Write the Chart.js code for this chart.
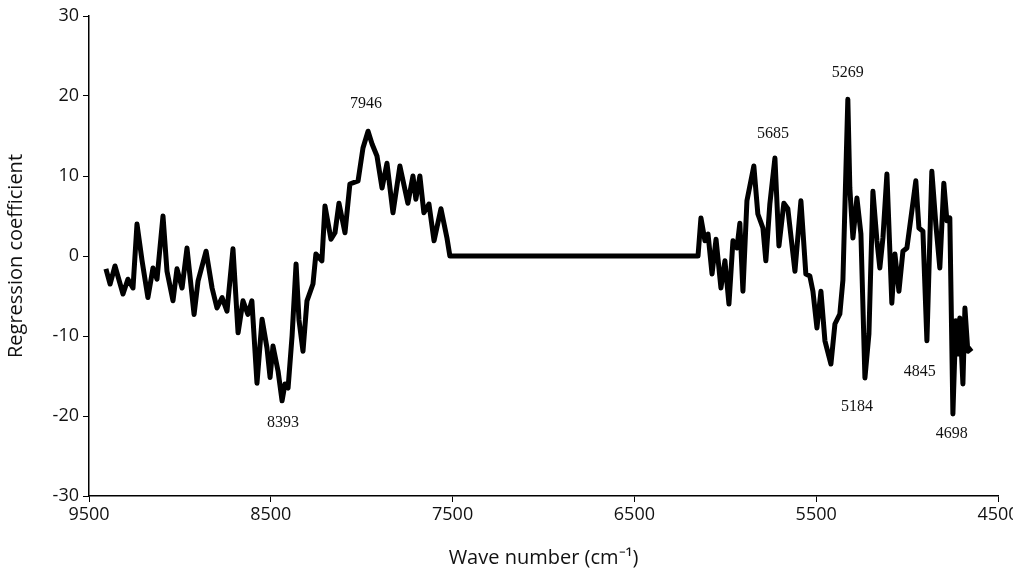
<!DOCTYPE html>
<html>
<head>
<meta charset="utf-8">
<script src="https://cdn.jsdelivr.net/npm/chart.js@4.4.1/dist/chart.umd.min.js"></script>
<style>
  html, body { margin: 0; padding: 0; background: #fff; }
  #wrap { width: 1013px; height: 574px; position: relative; }
</style>
</head>
<body>
<div id="wrap"><canvas id="chart"></canvas></div>
<script>
// wave numbers (cm-1)
const waveNumbers = [
  9407, 9384, 9357, 9335, 9313, 9286, 9258, 9236, 9208, 9176,
  9148, 9126, 9093, 9071, 9038, 9016, 8988, 8961, 8922, 8900,
  8856, 8823, 8796, 8768, 8741, 8708, 8680, 8653, 8626, 8604,
  8576, 8548, 8521, 8504, 8488, 8460, 8438, 8422, 8405, 8383,
  8361, 8345, 8323, 8301, 8268, 8252, 8219, 8202, 8169, 8147,
  8125, 8092, 8065, 8020, 7993, 7965, 7943, 7916, 7888, 7861,
  7828, 7790, 7746, 7718, 7702, 7680, 7658, 7630, 7602, 7564,
  7531, 7515, 6150,
  6134, 6112, 6095, 6073, 6051, 6024, 6002, 5980, 5958, 5936,
  5920, 5903, 5881, 5843, 5821, 5793, 5777, 5755, 5727, 5705,
  5678, 5656, 5617, 5584, 5557, 5535, 5518, 5496, 5474, 5452,
  5419, 5397, 5370, 5353, 5326, 5315, 5298, 5276, 5254, 5232,
  5210, 5188, 5166, 5150, 5133, 5111, 5084, 5067, 5045, 5023,
  5001, 4974, 4952, 4935, 4913, 4891, 4864, 4842, 4820, 4798,
  4781, 4765, 4748, 4732, 4721, 4710, 4693, 4682, 4666, 4644
];

// regression coefficients, same order as waveNumbers
const coefficients = [
  -1.6, -3.5, -1.25, -3, -4.75, -2.9, -4, 4, -0.6, -5.2,
  -1.5, -2.9, 5, -1.9, -5.6, -1.6, -4, 1, -7.3, -3.1,
  0.6, -4, -6.5, -5.2, -6.9, 0.9, -9.6, -5.6, -7.3, -5.6,
  -15.9, -7.9, -11.5, -15.2, -11.25, -14.4, -18.1, -16, -16.5, -10,
  -1, -8, -11.9, -5.6, -3.5, 0.25, -0.6, 6.25, 2.1, 2.9,
  6.6, 2.9, 9, 9.4, 13.5, 15.6, 14, 12.5, 8.5, 11.6,
  5.4, 11.25, 6.6, 10, 7.1, 10, 5.4, 6.5, 1.9, 5.9,
  2.25, 0, 0,
  4.75, 1.9, 2.75, -2.25, 2.1, -4, -0.6, -6, 1.9, 1,
  4.1, -4.4, 6.9, 11.25, 5.25, 3.5, -0.6, 6.5, 12.25, 1.25,
  6.6, 5.9, -1.9, 6.9, -2.25, -2.5, -4.4, -9, -4.4, -10.6,
  -13.5, -8.5, -7.25, -3, 19.6, 8.5, 2.25, 7.25, 2.75, -15.25,
  -9.75, 8.1, 1.9, -1.5, 2.25, 10.25, -5.9, 0.25, -4.4, 0.6,
  1, 5.6, 9.4, 3.5, 3.1, -10.6, 10.6, 4, -1.5, 9.1,
  4.4, 4.75, -19.75, -8.1, -12.25, -7.75, -16, -6.5, -11.9, -11.5
];

const xTicks = [9500, 8500, 7500, 6500, 5500, 4500];
const yTicks = [-30, -20, -10, 0, 10, 20, 30];

// peak annotations: text and where it sits on the chart
const peakLabels = ['7946', '8393', '5685', '5269', '5184', '4845', '4698'];
const peakLabelX = [7977, 8433, 5738, 5326, 5276, 4930, 4754];
const peakLabelY = [19, -20.9, 15.25, 22.9, -18.9, -14.5, -22.25];

const points = waveNumbers.map((w, i) => ({ x: w, y: coefficients[i] }));

const peakLabelPlugin = {
  id: 'peakLabels',
  afterDatasetsDraw(chart) {
    const { ctx, scales: { x, y } } = chart;
    ctx.save();
    ctx.font = '16px "Liberation Serif"';
    ctx.fillStyle = '#111';
    ctx.textAlign = 'center';
    ctx.textBaseline = 'middle';
    peakLabels.forEach((label, i) => {
      ctx.fillText(label, x.getPixelForValue(peakLabelX[i]), y.getPixelForValue(peakLabelY[i]));
    });
    ctx.restore();
  }
};

const tickFont = { family: '"Open Sans"', size: 18 };

new Chart(document.getElementById('chart'), {
  type: 'line',
  data: {
    datasets: [{
      data: points,
      borderColor: '#000',
      borderWidth: 5,
      borderJoinStyle: 'round',
      pointRadius: 0,
      tension: 0,
      fill: false
    }]
  },
  options: {
    responsive: true,
    maintainAspectRatio: false,
    animation: false,
    layout: { padding: { top: 16, right: 15, left: 0, bottom: 0 } },
    plugins: {
      legend: { display: false },
      tooltip: { enabled: false }
    },
    scales: {
      x: {
        type: 'linear',
        reverse: true,
        min: 4500,
        max: 9500,
        afterBuildTicks: (scale) => { scale.ticks = xTicks.map(v => ({ value: v })); },
        afterFit: (scale) => { scale.height = 78; scale.paddingRight = 0; scale.paddingLeft = 0; },
        ticks: { color: '#111', font: tickFont, padding: 2, maxRotation: 0, autoSkip: false, callback: (v) => String(v) },
        grid: { drawOnChartArea: false, drawTicks: true, tickLength: 6, color: '#000' },
        border: { display: true, color: '#000', width: 1.5 },
        title: {
          display: true,
          text: 'Wave number (cm\u207B\u00B9)',
          color: '#111',
          font: { family: '"Open Sans"', size: 20 },
          padding: { top: 8 }
        }
      },
      y: {
        min: -30,
        max: 30,
        afterBuildTicks: (scale) => { scale.ticks = yTicks.map(v => ({ value: v })); },
        afterFit: (scale) => { scale.width = 89; },
        ticks: { color: '#111', font: tickFont, padding: 4, callback: (v) => String(v) },
        grid: { drawOnChartArea: false, drawTicks: true, tickLength: 6, color: '#000' },
        border: { display: true, color: '#000', width: 1.5 },
        title: {
          display: true,
          text: 'Regression coefficient',
          color: '#111',
          font: { family: '"Open Sans"', size: 20 },
          padding: { bottom: 4 }
        }
      }
    }
  },
  plugins: [peakLabelPlugin]
});
</script>
</body>
</html>
